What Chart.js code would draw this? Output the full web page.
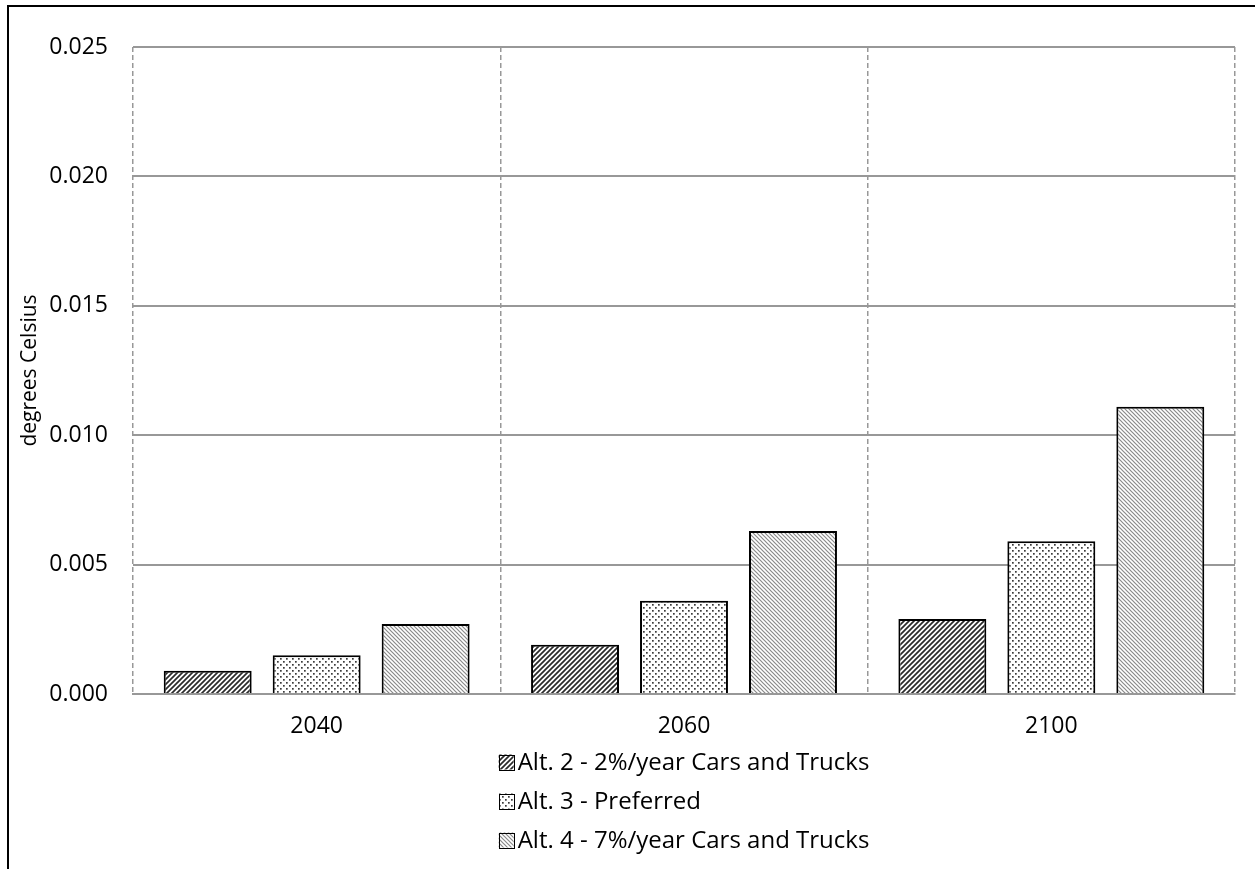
<!DOCTYPE html>
<html>
<head>
<meta charset="utf-8">
<title>Temperature increase by alternative</title>
<script src="https://cdn.jsdelivr.net/npm/chart.js@4.4.1/dist/chart.umd.min.js"></script>
<style>
  html, body { margin: 0; padding: 0; background: #fff; }
  #wrap { position: relative; width: 1255px; height: 869px; overflow: hidden; }
  #frame {
    position: absolute; left: 7px; top: 5px; right: -10px; bottom: -10px;
    border-top: 2px solid #000; border-left: 2px solid #000;
    pointer-events: none;
  }
</style>
</head>
<body>
<div id="wrap">
  <canvas id="temp-chart" width="1255" height="869"></canvas>
  <div id="frame"></div>
</div>
<script>
// Categories and series (degrees Celsius)
const years = ['2040', '2060', '2100'];
const alt2 = [0.0009, 0.0019, 0.0029];
const alt3 = [0.0015, 0.0036, 0.0059];
const alt4 = [0.0027, 0.0063, 0.0111];
const seriesNames = [
  'Alt. 2 - 2%/year Cars and Trucks',
  'Alt. 3 - Preferred',
  'Alt. 4 - 7%/year Cars and Trucks'
];
const yTicks = [0, 0.005, 0.010, 0.015, 0.020, 0.025];

const FONT = "'Open Sans', sans-serif";
const GRID = '#989898';

// Fill patterns for the bars
function stripePattern(size, dir, color, width) {
  const c = document.createElement('canvas');
  c.width = size; c.height = size;
  const g = c.getContext('2d');
  g.fillStyle = '#fff';
  g.fillRect(0, 0, size, size);
  g.strokeStyle = color;
  g.lineWidth = width;
  g.beginPath();
  if (dir === '/') {
    g.moveTo(0, size); g.lineTo(size, 0);
    g.moveTo(-1, 1); g.lineTo(1, -1);
    g.moveTo(size - 1, size + 1); g.lineTo(size + 1, size - 1);
  } else {
    g.moveTo(0, 0); g.lineTo(size, size);
    g.moveTo(size - 1, -1); g.lineTo(size + 1, 1);
    g.moveTo(-1, size - 1); g.lineTo(1, size + 1);
  }
  g.stroke();
  return g.createPattern(c, 'repeat');
}

function dotPattern(size, color) {
  const c = document.createElement('canvas');
  c.width = size; c.height = size;
  const g = c.getContext('2d');
  g.fillStyle = '#fff';
  g.fillRect(0, 0, size, size);
  g.fillStyle = color;
  g.fillRect(1, 1, 1.7, 1.7);
  g.fillRect(1 + size / 2, 1 + size / 2, 1.7, 1.7);
  return g.createPattern(c, 'repeat');
}

const fills = [
  stripePattern(5, '/', '#2a2a2a', 1.7),
  dotPattern(6, '#3c3c3c'),
  stripePattern(4, '\\', '#8a8a8a', 1.2)
];

// Vertical legend under the x axis, centred on the plot area
const stackedLegend = {
  id: 'stackedLegend',
  afterDraw(chart) {
    const ctx = chart.ctx;
    const area = chart.chartArea;
    const box = 15, gap = 4, rowH = 39, firstRow = 68;
    ctx.save();
    ctx.font = '24px ' + FONT;
    ctx.textBaseline = 'middle';
    ctx.textAlign = 'left';
    const widest = Math.max(...seriesNames.map(s => ctx.measureText(s).width));
    const left = (area.left + area.right) / 2 - (box + gap + widest) / 2;
    seriesNames.forEach((name, i) => {
      const cy = area.bottom + firstRow + i * rowH;
      ctx.fillStyle = fills[i];
      ctx.fillRect(left, cy - box / 2, box, box);
      ctx.strokeStyle = '#000';
      ctx.lineWidth = 1;
      ctx.strokeRect(Math.round(left) + 0.5, Math.round(cy - box / 2) + 0.5, box, box);
      ctx.fillStyle = '#000';
      ctx.fillText(name, left + box + gap, cy + 1);
    });
    ctx.restore();
  }
};

const datasets = [alt2, alt3, alt4].map((vals, i) => ({
  label: seriesNames[i],
  data: vals,
  backgroundColor: fills[i],
  borderColor: '#000',
  borderWidth: 2,
  categoryPercentage: 0.89,
  barPercentage: 0.807
}));

new Chart(document.getElementById('temp-chart'), {
  type: 'bar',
  data: { labels: years, datasets: datasets },
  plugins: [stackedLegend],
  options: {
    responsive: false,
    animation: false,
    layout: { padding: { top: 47, right: 20, bottom: 0, left: 0 } },
    plugins: {
      legend: { display: false },
      tooltip: { enabled: false }
    },
    scales: {
      x: {
        grid: {
          offset: true,
          color: GRID,
          lineWidth: 1.5,
          drawTicks: false
        },
        // dash applies to the year separators; the axis line itself stays solid
        border: { display: true, color: GRID, width: 2, dash: [5, 3] },
        ticks: {
          color: '#000',
          padding: 19,
          font: { family: FONT, size: 23 }
        },
        afterFit(scale) { scale.height = 175; }
      },
      y: {
        min: 0,
        max: 0.025,
        afterBuildTicks(scale) {
          scale.ticks = yTicks.map(v => ({ value: v }));
        },
        grid: { color: GRID, lineWidth: 2, drawTicks: false },
        border: { display: false },
        ticks: {
          color: '#000',
          padding: 25,
          font: { family: FONT, size: 23 },
          callback: v => v.toFixed(3)
        },
        title: {
          display: true,
          text: 'degrees Celsius',
          color: '#000',
          font: { family: FONT, size: 21 },
          padding: { top: 17, bottom: 0 }
        },
        afterFit(scale) { scale.width = 133; }
      }
    }
  }
});
</script>
</body>
</html>
